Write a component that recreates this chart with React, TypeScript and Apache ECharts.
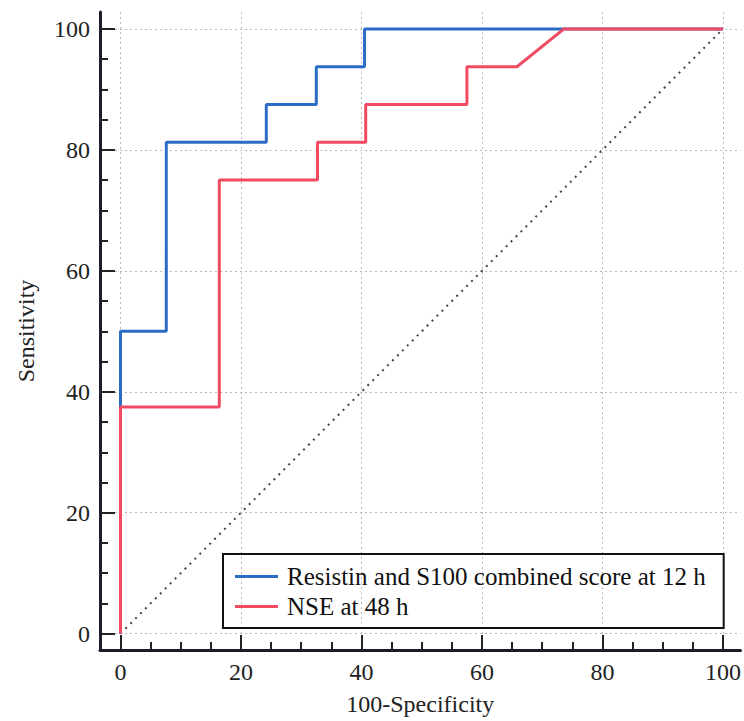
import React, { useEffect, useRef } from "react";
import * as echarts from "echarts";

const blueName = "Resistin and S100 combined score at 12 h";
const redName = "NSE at 48 h";

const blueX = [0, 0, 7.6, 7.6, 24.2, 24.2, 32.5, 32.5, 40.5, 40.5, 100];
const blueY = [0, 50, 50, 81.25, 81.25, 87.5, 87.5, 93.75, 93.75, 100, 100];

const redX = [0, 0, 16.4, 16.4, 32.7, 32.7, 40.7, 40.7, 57.5, 57.5, 65.8, 73.6, 100];
const redY = [0, 37.5, 37.5, 75, 75, 81.25, 81.25, 87.5, 87.5, 93.75, 93.75, 100, 100];

const diagX = [0, 100];
const diagY = [0, 100];

const majorTicks = [0, 20, 40, 60, 80, 100];
const minorTicks = [0, 5, 10, 15, 20, 25, 30, 35, 40, 45, 50, 55, 60, 65, 70, 75, 80, 85, 90, 95, 100];

const FONT = "'Liberation Serif', 'Times New Roman', serif";

const zip = (xs: number[], ys: number[]) => xs.map((x, i) => [x, ys[i]]);

export default function App() {
  const ref = useRef<HTMLDivElement>(null);
  useEffect(() => {
    if (!ref.current) return;
    const chart = echarts.init(ref.current, null, { renderer: "svg" });
    const axisColor = "#1c1c28";
    const grid = { left: 100, right: 2, top: 12, bottom: 66 };
    const xMin = -3.4, xMax = 102.9, yMin = -2.7, yMax = 102.8;
    const labelStyle = { fontFamily: FONT, fontSize: 24, color: "#222" };
    const splitLine = { show: true, lineStyle: { type: [2, 3], color: "#b8b8b8", width: 1 } };
    chart.setOption({
      animation: false,
      backgroundColor: "#ffffff",
      grid,
      xAxis: [
        {
          type: "value", min: xMin, max: xMax, position: "bottom",
          name: "100-Specificity", nameLocation: "middle", nameGap: 42,
          nameTextStyle: { ...labelStyle, color: "#222" },
          axisLine: { show: true, onZero: false, lineStyle: { color: axisColor, width: 3 } },
          axisTick: { show: true, inside: true, length: 15, customValues: majorTicks, lineStyle: { color: "#222", width: 2 } },
          axisLabel: { show: true, customValues: majorTicks, margin: 10, ...labelStyle },
          splitLine,
        },
        {
          type: "value", min: xMin, max: xMax, position: "bottom",
          axisLine: { show: false, onZero: false },
          axisTick: { show: true, inside: true, length: 8, customValues: minorTicks, lineStyle: { color: "#222", width: 2 } },
          axisLabel: { show: false },
          splitLine: { show: false },
        },
      ],
      yAxis: [
        {
          type: "value", min: yMin, max: yMax, position: "left",
          name: "Sensitivity", nameLocation: "middle", nameGap: 62,
          nameTextStyle: { ...labelStyle, color: "#222" },
          axisLine: { show: true, onZero: false, lineStyle: { color: axisColor, width: 3 } },
          axisTick: { show: true, inside: true, length: 15, customValues: majorTicks, lineStyle: { color: "#222", width: 2 } },
          axisLabel: { show: true, customValues: majorTicks, margin: 10, ...labelStyle },
          splitLine,
        },
        {
          type: "value", min: yMin, max: yMax, position: "left",
          axisLine: { show: false, onZero: false },
          axisTick: { show: true, inside: true, length: 8, customValues: minorTicks, lineStyle: { color: "#222", width: 2 } },
          axisLabel: { show: false },
          splitLine: { show: false },
        },
      ],
      legend: {
        data: [blueName, redName],
        left: 223, top: 554,
        orient: "vertical",
        borderColor: "#111", borderWidth: 2,
        padding: [10, 18, 9, 12],
        itemGap: 5, itemWidth: 43, itemHeight: 3, icon: "rect",
        textStyle: { fontFamily: FONT, fontSize: 25, color: "#111", padding: [0, 0, 0, 4] },
      },
      series: [
        {
          name: "diag", type: "line", data: zip(diagX, diagY), showSymbol: false, silent: true,
          lineStyle: { color: "#444", width: 2, type: [2, 5] },
        },
        {
          name: blueName, type: "line", data: zip(blueX, blueY), showSymbol: false,
          itemStyle: { color: "#2b6cc4" }, lineStyle: { color: "#2b6cc4", width: 3 },
        },
        {
          name: redName, type: "line", data: zip(redX, redY), showSymbol: false,
          itemStyle: { color: "#f04b62" }, lineStyle: { color: "#f04b62", width: 3 },
        },
      ],
    });
    return () => chart.dispose();
  }, []);
  return (
    <div
      ref={ref}
      style={{ position: "fixed", left: 0, top: 0, width: 744, height: 721, background: "#fff" }}
    />
  );
}
